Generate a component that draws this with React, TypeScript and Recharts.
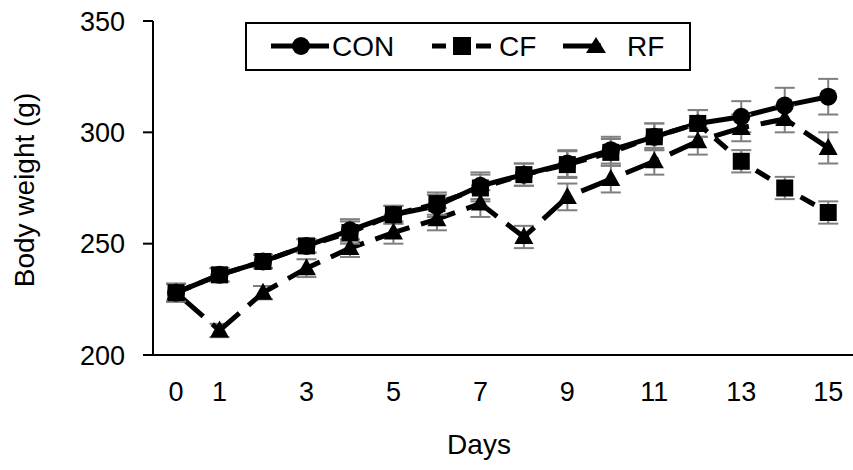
import React from 'react';
import { LineChart, Line, XAxis, YAxis, ErrorBar } from 'recharts';

const days = [0, 1, 2, 3, 4, 5, 6, 7, 8, 9, 10, 11, 12, 13, 14, 15];
const conMean = [228, 236, 242, 249, 256, 263, 267, 276, 281, 286, 292, 298, 304, 307, 312, 316];
const conErr = [4, 3, 3, 3, 5, 4, 5, 6, 5, 6, 6, 6, 6, 7, 8, 8];
const cfMean = [228, 236, 242, 249, 255, 263, 268, 275, 281, 285.5, 291, 298, 304, 287, 275, 264];
const cfErr = [4, 3, 3, 3, 5, 4, 5, 6, 5, 6, 6, 6, 6, 5, 5, 5];
const rfMean = [228, 211, 228, 239, 248, 255, 261, 268, 253, 271, 279, 287, 296, 302, 306, 293];
const rfErr = [4, 3, 3, 4, 4, 5, 5, 6, 5, 6, 6, 6, 6, 6, 6, 7];
const xTicks = [0, 1, 3, 5, 7, 9, 11, 13, 15];
const yTicks = [200, 250, 300, 350];
const seriesNames = ['CON', 'CF', 'RF'];

const data = days.map((d, i) => ({
  day: d,
  con: conMean[i],
  conE: conErr[i],
  cf: cfMean[i],
  cfE: cfErr[i],
  rf: rfMean[i],
  rfE: rfErr[i],
}));

const FONT = '"Liberation Sans", Arial, sans-serif';

const CircleDot = (props: any) => {
  const { cx, cy, index } = props;
  if (cx == null || cy == null) return <g key={`c${index}`} />;
  return <circle key={`c${index}`} cx={cx} cy={cy} r={9} fill="#000" />;
};
const SquareDot = (props: any) => {
  const { cx, cy, index } = props;
  if (cx == null || cy == null) return <g key={`s${index}`} />;
  return <rect key={`s${index}`} x={cx - 8.5} y={cy - 8.5} width={17} height={17} fill="#000" />;
};
const TriDot = (props: any) => {
  const { cx, cy, index } = props;
  if (cx == null || cy == null) return <g key={`t${index}`} />;
  return <polygon key={`t${index}`} points={`${cx},${cy - 10} ${cx + 9.5},${cy + 7} ${cx - 9.5},${cy + 7}`} fill="#000" />;
};

const LegendBox = () => (
  <svg width={447} height={50} style={{ display: 'block' }}>
    <rect x={1} y={1} width={444} height={47} fill="#fff" stroke="#000" strokeWidth={2} />
    <line x1={26} y1={24} x2={84} y2={24} stroke="#000" strokeWidth={5} />
    <circle cx={56} cy={24} r={9} fill="#000" />
    <text x={87} y={34} fontFamily={FONT} fontSize={28} fill="#000">{seriesNames[0]}</text>
    <line x1={187} y1={24} x2={201} y2={24} stroke="#000" strokeWidth={5} />
    <rect x={208} y={15} width={18} height={18} fill="#000" />
    <line x1={231} y1={24} x2={246} y2={24} stroke="#000" strokeWidth={5} />
    <text x={254} y={34} fontFamily={FONT} fontSize={28} fill="#000">{seriesNames[1]}</text>
    <line x1={318} y1={24} x2={356} y2={24} stroke="#000" strokeWidth={5} />
    <polygon points="351,15 361,31 341,31" fill="#000" />
    <text x={382} y={34} fontFamily={FONT} fontSize={28} fill="#000">{seriesNames[2]}</text>
  </svg>
);

const XTitle = (props: any) => {
  const vb = props.viewBox || { x: 153, y: 355, width: 700, height: 115 };
  return (
    <text x={vb.x + vb.width / 2 - 24} y={vb.y + 99} textAnchor="middle" fontFamily={FONT} fontSize={28} fill="#000">
      Days
    </text>
  );
};

const YTitle = (props: any) => {
  const vb = props.viewBox || { x: 0, y: 21, width: 153, height: 334 };
  const cx = vb.x + 24;
  const cy = vb.y + vb.height / 2 + 2;
  return (
    <text x={cx} y={cy} textAnchor="middle" dominantBaseline="central" transform={`rotate(-90, ${cx}, ${cy})`} fontFamily={FONT} fontSize={28} fill="#000">
      Body weight (g)
    </text>
  );
};

export default function App() {
  return (
    <div style={{ position: 'absolute', left: 0, top: 0, width: 853, height: 470, background: '#fff' }}>
      <LineChart width={853} height={470} data={data} margin={{ top: 21, right: 0, left: 0, bottom: 0 }}>
        <XAxis
          dataKey="day"
          type="number"
          domain={[-0.53, 15.57]}
          ticks={xTicks}
          allowDataOverflow
          height={115}
          tickLine={false}
          tickSize={0}
          tickMargin={27}
          axisLine={{ stroke: '#000', strokeWidth: 2 }}
          tick={{ fill: '#000', fontSize: 27, fontFamily: FONT }}
          label={{ content: XTitle }}
        />
        <YAxis
          type="number"
          domain={[200, 350]}
          ticks={yTicks}
          width={153}
          tickSize={10}
          tickMargin={18}
          axisLine={{ stroke: '#000', strokeWidth: 2 }}
          tickLine={{ stroke: '#000', strokeWidth: 2 }}
          tick={{ fill: '#000', fontSize: 27, fontFamily: FONT }}
          label={{ content: YTitle }}
        />
        <Line dataKey="con" name="CON" stroke="#000" strokeWidth={5} dot={CircleDot} activeDot={false} isAnimationActive={false}>
          <ErrorBar dataKey="conE" width={10} stroke="#7f7f7f" strokeWidth={2} direction="y" />
        </Line>
        <Line dataKey="rf" name="RF" stroke="#000" strokeWidth={5} strokeDasharray="36 12" dot={TriDot} activeDot={false} isAnimationActive={false}>
          <ErrorBar dataKey="rfE" width={10} stroke="#7f7f7f" strokeWidth={2} direction="y" />
        </Line>
        <Line dataKey="cf" name="CF" stroke="#000" strokeWidth={5} strokeDasharray="16 10" dot={SquareDot} activeDot={false} isAnimationActive={false}>
          <ErrorBar dataKey="cfE" width={10} stroke="#7f7f7f" strokeWidth={2} direction="y" />
        </Line>
      </LineChart>
      <div style={{ position: 'absolute', left: 245, top: 22 }}>
        <LegendBox />
      </div>
    </div>
  );
}
